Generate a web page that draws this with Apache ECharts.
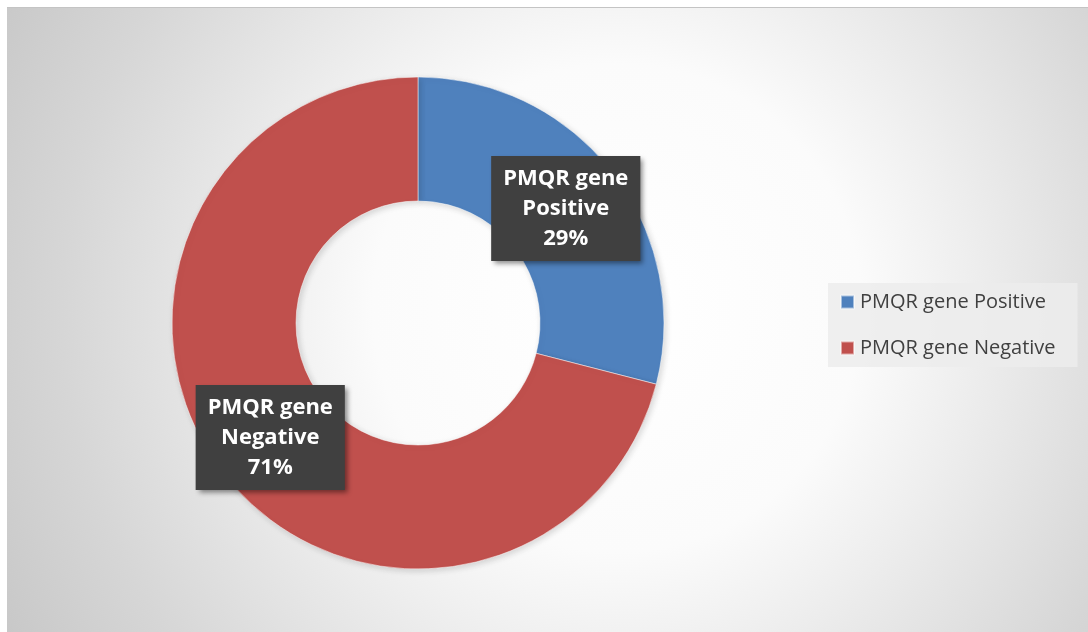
<!DOCTYPE html>
<html>
<head>
<meta charset="utf-8">
<script src="https://cdn.jsdelivr.net/npm/echarts@6/dist/echarts.min.js"></script>
<style>
  html, body { margin: 0; padding: 0; background: #ffffff; }
  #chart {
    position: absolute; left: 7px; top: 7px; width: 1081px; height: 625px;
    border-top: 1px solid #c4c4c4; box-sizing: border-box;
  }
</style>
</head>
<body>
<div id="chart"></div>
<script>
// PMQR gene detection results
const categories = ['PMQR gene Positive', 'PMQR gene Negative'];
const shares = [29, 71];
const sliceColors = ['#4f81bd', '#c0504d'];

const chart = echarts.init(document.getElementById('chart'));

const option = {
  backgroundColor: {
    type: 'radial', x: 610, y: 300, r: 740, global: true,
    colorStops: [
      { offset: 0, color: '#ffffff' },
      { offset: 0.33, color: '#fbfbfb' },
      { offset: 0.48, color: '#eeeeee' },
      { offset: 0.75, color: '#d6d6d6' },
      { offset: 1, color: '#c3c3c3' }
    ]
  },
  legend: {
    orient: 'vertical',
    left: 821, top: 275,
    padding: [9, 22, 9, 12],
    backgroundColor: 'rgba(236,236,236,0.85)',
    itemWidth: 13, itemHeight: 13, itemGap: 26,
    icon: 'rect',
    textStyle: { fontFamily: 'Open Sans', fontSize: 20, lineHeight: 20, color: '#404040', padding: [0, 0, 0, 1] },
    data: categories
  },
  series: [{
    type: 'pie',
    center: [411, 315],
    radius: [122, 246],
    startAngle: 90,
    clockwise: true,
    silent: true,
    itemStyle: {
      borderColor: 'rgba(255,255,255,0.5)', borderWidth: 1,
      shadowBlur: 6, shadowColor: 'rgba(0,0,0,0.15)', shadowOffsetX: 2, shadowOffsetY: 2
    },
    label: {
      show: true,
      position: 'inside',
      formatter: function (p) {
        const parts = p.name.split(' ');
        return parts.slice(0, 2).join(' ') + '\n' + parts.slice(2).join(' ') + '\n' + p.value + '%';
      },
      fontFamily: 'Open Sans',
      fontWeight: 'bold',
      fontSize: 22,
      lineHeight: 30,
      color: '#ffffff',
      backgroundColor: '#404040',
      padding: [8, 12, 7, 12],
      shadowColor: 'rgba(0,0,0,0.45)', shadowBlur: 5, shadowOffsetX: 3, shadowOffsetY: 3
    },
    labelLine: { show: false },
    data: categories.map((c, i) => ({ name: c, value: shares[i], itemStyle: { color: sliceColors[i] } }))
  }]
};

chart.setOption(option);
</script>
</body>
</html>
